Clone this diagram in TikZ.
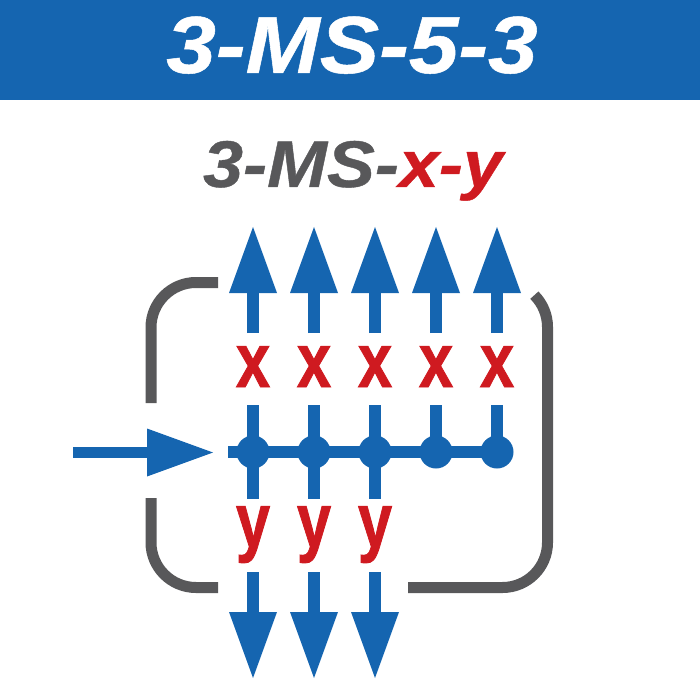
\documentclass[tikz,border=0pt]{standalone}
\usepackage{fontspec}
\setmainfont{Liberation Sans}
\newfontfamily\heavyfont[FakeBold=1.2]{Liberation Sans Bold}
\newfontfamily\heavyital[FakeBold=0.6]{Liberation Sans Bold Italic}
\usetikzlibrary{arrows.meta}
\definecolor{mblue}{RGB}{21,101,176}
\definecolor{mred}{RGB}{207,26,32}
\definecolor{mgray}{RGB}{88,88,90}
\begin{document}
\begin{tikzpicture}[x=1pt,y=-1pt,
  shaft/.style={mblue,line width=11.5pt},
  uparrow/.style={shaft,-{Triangle[length=66pt,width=48pt,line width=0pt]}},
  bracket/.style={mgray,line width=11pt},
  dot/.style={circle,fill=mblue,minimum size=33pt,inner sep=0pt},
  lbl/.style={mred,anchor=base,inner sep=0pt,font=\fontsize{77}{80}\heavyfont}]
\useasboundingbox (0,0) rectangle (700,700);
\fill[mblue] (0,0) rectangle (700,100);
\node[white,anchor=base,inner sep=0pt,font=\fontsize{81}{90}\heavyital] (title) at (352,73) {\scalebox{1.1}[1]{3-MS-5-3}};
\node[mgray,anchor=base,inner sep=0pt,font=\fontsize{66}{72}\heavyital] (sub) at (353,187) {\scalebox{1.09}[1]{3-MS-\textcolor{mred}{x-y}}};
% brackets
\draw[bracket,rounded corners=45pt] (218,282.5) -- (151,282.5) -- (151,403);
\draw[bracket,rounded corners=45pt] (151,498) -- (151,587.5) -- (218,587.5);
\draw[bracket] (408,587.5) -- (502.5,587.5) arc[start angle=-90,end angle=0,radius=45pt] -- (547.5,327) arc[start angle=0,end angle=45,radius=45pt];
% input arrow
\coordinate (in0) at (73,452.5);
\coordinate (in1) at (213,452.5);
\draw[uparrow] (in0) -- (in1);
% columns
\coordinate (hstart) at (228,452);
\foreach \i/\x in {1/253,2/314,3/375,4/436,5/497}{
  \node[dot] (d\i) at (\x,452) {};
  \coordinate (ub\i) at (\x,333);
  \coordinate (ut\i) at (\x,227);
  \coordinate (vs\i) at (\x,405);
  \draw[uparrow] (ub\i) -- (ut\i);
  \node[lbl] (x\i) at (\x,387) {\scalebox{0.8}[1]{x}};
}
\draw[shaft] (hstart) -- (d5.center);
\foreach \i in {4,5}{\draw[shaft] (vs\i) -- (d\i.center);}
\foreach \i/\x in {1/253,2/314,3/375}{
  \coordinate (ve\i) at (\x,499);
  \draw[shaft] (vs\i) -- (ve\i);
  \node[lbl] (y\i) at (\x,547) {\scalebox{0.8}[1]{y}};
  \coordinate (db\i) at (\x,572);
  \coordinate (dt\i) at (\x,678);
  \draw[uparrow] (db\i) -- (dt\i);
}
\end{tikzpicture}
\end{document}
